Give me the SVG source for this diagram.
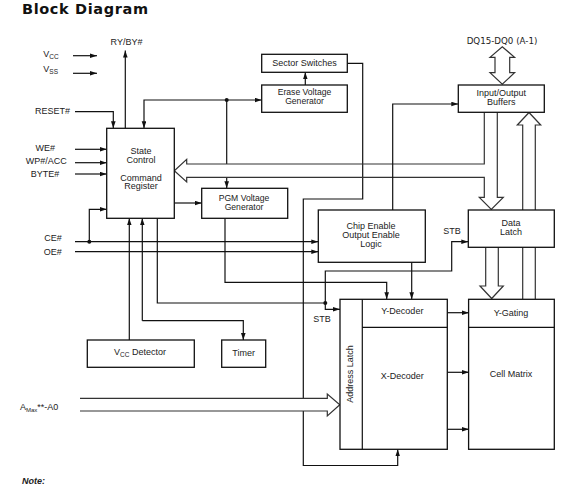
<svg xmlns="http://www.w3.org/2000/svg" width="582" height="487" viewBox="0 0 582 487">
<defs>
<marker id="ah" markerUnits="userSpaceOnUse" markerWidth="8" markerHeight="6" refX="7" refY="2.3" orient="auto">
<path d="M0,0 L7,2.3 L0,4.6 z" fill="#111"/>
</marker>
</defs>
<style>
.t{font-family:"Liberation Sans",Arial,sans-serif;font-size:9px;fill:#222}
.s{font-size:8.6px}
.m{text-anchor:middle}
.e{text-anchor:end}
.b{fill:#fff;stroke:#111;stroke-width:1.3}
.c{fill:none;stroke:#111;stroke-width:1.2}
.a{marker-end:url(#ah)}
.h{fill:none;stroke:#333;stroke-width:1.2}
.d{fill:#111}
</style>
<rect width="582" height="487" fill="#fff"/>
<text x="22" y="13.5" textLength="126" style="font-family:'DejaVu Sans',sans-serif;font-weight:bold;font-size:14.5px;fill:#111">Block Diagram</text>

<g id="connectors">
<path class="c a" d="M73,55.7 H97"/>
<path class="c a" d="M73,73.3 H97"/>
<path class="c a" d="M125.3,128.3 V50.5"/>
<path class="c a" d="M75,111.7 H113.3 V128.3"/>
<path class="c a" d="M226.7,100 H261.7"/>
<path class="c a" d="M226.7,100 H144 V128.3"/>
<path class="c" d="M226.7,100 V164"/>
<path class="c a" d="M226.7,177.3 V188.3"/>
<circle class="d" cx="226.7" cy="100" r="2"/>
<path class="c a" d="M305.3,85 V72.3"/>
<path class="c a" d="M347.3,63.3 H362.7 V199 H303.3 V398.3 M303.3,411 V465.5 H397.7 V449.3"/>
<path class="c a" d="M75,149.3 H106.7"/>
<path class="c a" d="M75,162.7 H106.7"/>
<path class="c a" d="M75,174 H106.7"/>
<path class="c a" d="M75,241.7 H318.3"/>
<path class="c a" d="M75,251.7 H318.3"/>
<circle class="d" cx="89.3" cy="241.7" r="2"/>
<path class="c a" d="M89.3,241.7 V209.3 H106.7"/>
<path class="c a" d="M174.3,203 H201.7"/>
<path class="h" d="M484.3,112.3 V164 H186.7 V159.3 L174.3,170.7 L186.7,182 V177.3 H484.3 V197.3 H479.3 L491.3,209.5 L503.3,197.3 H497.3 V112.3"/>
<path class="c a" d="M392.7,210 V104 H458.3"/>
<path class="h" d="M522.7,299.3 V125 H517.3 L529,112.5 L540.7,125 H535.3 V299.3"/>
<path class="h" d="M485.7,247.3 V286 H480 L491.7,298.5 L503.3,286 H498.3 V247.3"/>
<path class="c" d="M157.3,218.3 V303 H325.3"/>
<circle class="d" cx="325.3" cy="303" r="2"/>
<path class="c a" d="M325.3,303 V309.3 H340"/>
<path class="c a" d="M325.3,303 V271 H451.7 V241.7 H468.3"/>
<path class="c a" d="M225,218.3 V282.3 H386.7 V299.3"/>
<path class="c a" d="M411.7,262.3 V299.3"/>
<path class="c a" d="M129.3,340 V218.3"/>
<path class="c a" d="M142.3,320.7 V218.3"/>
<path class="c a" d="M142.3,320.7 H243.3 V340"/>
<path class="c a" d="M447.3,312.7 H469"/>
<path class="c a" d="M447.3,372.3 H469"/>
<path class="c a" d="M447.3,429.3 H469"/>
<path class="h" d="M80,398.3 H327.3 V394 L339.8,404.7 L327.3,416 V411 H80"/>
<path class="h" d="M495,57.3 H490 L502.3,46.7 L514.6,57.3 H509.7 V72.7 H514.6 L502.3,84.3 L490,72.7 H495 Z"/>
</g>

<g id="labels">
<text class="t m" x="126.5" y="44.5">RY/BY#</text>
<text class="t" x="43.3" y="56.5">V<tspan font-size="6.5" dy="2">CC</tspan></text>
<text class="t" x="43.3" y="71.5">V<tspan font-size="6.5" dy="2">SS</tspan></text>
<text class="t e" x="70" y="113.5">RESET#</text>
<text class="t e" x="55" y="151">WE#</text>
<text class="t e" x="66.7" y="164.3">WP#/ACC</text>
<text class="t e" x="59.3" y="176.7">BYTE#</text>
<text class="t e" x="61.7" y="241">CE#</text>
<text class="t e" x="61.7" y="255">OE#</text>
<text class="t" x="20" y="410">A<tspan font-size="6" dy="2">Max</tspan><tspan dy="-2">**-A0</tspan></text>
<text class="m" x="502" y="44" style="font-family:'DejaVu Sans',sans-serif;font-size:8.7px;fill:#222">DQ15-DQ0 (A-1)</text>
<text class="t m" x="452" y="234">STB</text>
<text class="t m" x="322" y="322.3">STB</text>
<text x="22" y="483.5" style="font-family:'Liberation Sans',Arial,sans-serif;font-size:9px;font-weight:bold;font-style:italic;fill:#222">Note:</text>
</g>

<g id="sector-switches">
<rect class="b" x="261.7" y="54.3" width="85.6" height="18"/>
<text class="t m" x="304.5" y="66.2">Sector Switches</text>
</g>
<g id="erase-voltage-generator">
<rect class="b" x="261.7" y="85" width="85.6" height="27.3"/>
<text class="t s m" x="304.5" y="95">Erase Voltage</text>
<text class="t s m" x="304.5" y="104.2">Generator</text>
</g>
<g id="io-buffers">
<rect class="b" x="458.3" y="85" width="86" height="27.3"/>
<text class="t m" x="501.3" y="96">Input/Output</text>
<text class="t m" x="501.3" y="105.3">Buffers</text>
</g>
<g id="state-control">
<rect class="b" x="106.7" y="128.3" width="67.6" height="90"/>
<text class="t m" x="141" y="154">State</text>
<text class="t m" x="141" y="162.7">Control</text>
<text class="t m" x="141" y="180.7">Command</text>
<text class="t m" x="141" y="189.3">Register</text>
</g>
<g id="pgm-voltage-generator">
<rect class="b" x="201.7" y="188.3" width="86" height="30"/>
<text class="t s m" x="244" y="200.5">PGM Voltage</text>
<text class="t s m" x="244" y="209.7">Generator</text>
</g>
<g id="chip-enable-logic">
<rect class="b" x="318.3" y="210" width="107" height="52.3"/>
<text class="t m" x="371" y="229">Chip Enable</text>
<text class="t m" x="371" y="237.7">Output Enable</text>
<text class="t m" x="371" y="246.7">Logic</text>
</g>
<g id="data-latch">
<rect class="b" x="468.3" y="210" width="86" height="37.3"/>
<text class="t m" x="511" y="225.7">Data</text>
<text class="t m" x="511" y="234.7">Latch</text>
</g>
<g id="decoders">
<rect class="b" x="340" y="299.3" width="107.3" height="150"/>
<path class="c" d="M362.3,299.3 V449.3 M362.3,327.3 H447.3"/>
<text class="t m" x="402.3" y="314.3">Y-Decoder</text>
<text class="t m" x="402.3" y="378.7">X-Decoder</text>
<text class="t m" transform="translate(353.3,374) rotate(-90)" x="0" y="0">Address Latch</text>
</g>
<g id="cell-matrix">
<rect class="b" x="468.6" y="299.3" width="85.7" height="150"/>
<path class="c" d="M468.6,327.3 H554.3"/>
<text class="t m" x="511" y="315.7">Y-Gating</text>
<text class="t m" x="511" y="377">Cell Matrix</text>
</g>
<g id="vcc-detector">
<rect class="b" x="87.3" y="340" width="107" height="27.3"/>
<text class="t m" x="140" y="355">V<tspan font-size="6.5" dy="1.5">CC</tspan><tspan dy="-1.5"> Detector</tspan></text>
</g>
<g id="timer">
<rect class="b" x="221.7" y="340" width="44" height="27.3"/>
<text class="t m" x="243.7" y="356">Timer</text>
</g>
</svg>
